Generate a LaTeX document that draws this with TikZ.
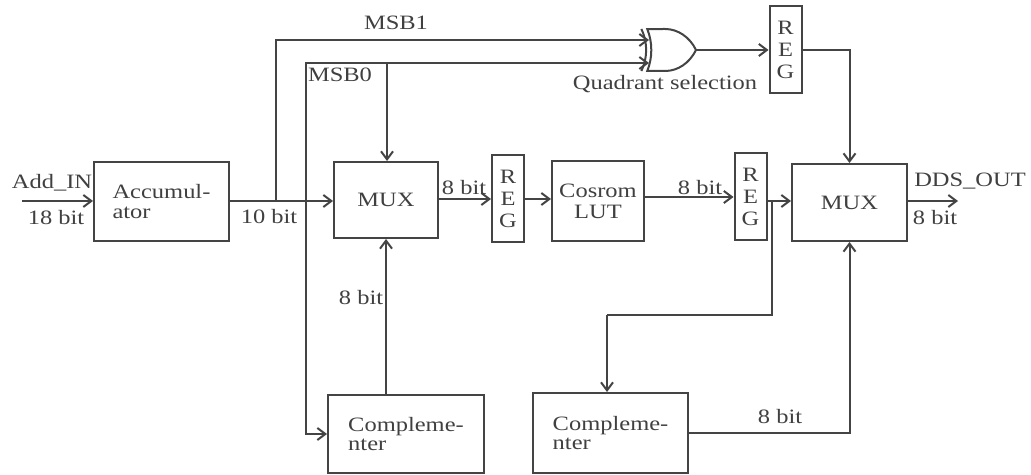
\documentclass[tikz,border=0pt]{standalone}
\usepackage{fontspec}
\setmainfont[FakeStretch=1.2]{Liberation Serif}
\usetikzlibrary{arrows.meta,shapes.gates.logic.US}
\definecolor{wirecol}{HTML}{444444}
\tikzset{
    blockbox/.style={draw=wirecol, line width=1pt, align=left, inner sep=0pt},
    regbox/.style={blockbox, align=center, minimum width=16pt, minimum height=43.5pt, font=\fontsize{10.2}{11}\selectfont},
    wire/.style={draw=wirecol, line width=1pt},
    lbl/.style={text=black!75, inner sep=0pt}
}
\begin{document}
\begin{tikzpicture}[x=0.5pt, y=-0.5pt, >={Straight Barb[length=4pt,width=6pt]}, text=black!75, font=\fontsize{10.2}{9.6}\selectfont]
    \useasboundingbox (0,0) rectangle (1031,475);

    % Blocks
    \node[blockbox, minimum width=67.5pt, minimum height=39.5pt] (accum) at (161.5,201.5) {Accumul-\\ator};
    \node[blockbox, minimum width=52pt, minimum height=38pt] (muxa) at (386,200) {MUX};
    \node[regbox] (rega) at (508,199) {R\\E\\G};
    \node[blockbox, align=center, minimum width=46pt, minimum height=40pt, font=\fontsize{10.2}{10.4}\selectfont] (cosrom) at (598,201) {Cosrom\\LUT};
    \node[regbox] (regb) at (750.5,197) {R\\E\\G};
    \node[blockbox, minimum width=57.5pt, minimum height=38.5pt] (muxb) at (849.5,202.5) {MUX};
    \node[regbox] (regc) at (785.5,50) {R\\E\\G};
    \node[blockbox, minimum width=78pt, minimum height=39pt] (compa) at (406,434) {Compleme-\\nter};
    \node[blockbox, minimum width=77.5pt, minimum height=40pt] (compb) at (610.5,433) {Compleme-\\nter};
    \node[xor gate US, draw=wirecol, line width=1pt, logic gate inputs=nn, minimum width=22pt, minimum height=21pt, inner sep=0pt, xscale=0.85, transform shape, anchor=output] (xorgate) at (697,50) {};

    % Free ends and branch points
    \coordinate (addin) at (22,201);
    \coordinate (ddsout) at (958,201);
    \coordinate (tapa) at (276,201);
    \coordinate (tapb) at (306,201);
    \coordinate (msba) at (276,40);
    \coordinate (msbb) at (306,63);
    \coordinate (msbc) at (387,63);
    \coordinate (xorina) at (649,40);
    \coordinate (xorinb) at (649,63);
    \coordinate (tapc) at (772,201);
    \coordinate (bendc) at (772,315);
    \coordinate (bendd) at (607,315);

    % Main path
    \draw[wire, ->] (addin) -- (accum.west |- addin);
    \draw[wire, ->] (accum.east |- tapa) -- (muxa.west |- tapa);
    \draw[wire, ->] (muxa.east |- rega.west) -- (rega.west);
    \draw[wire, ->] (rega.east) -- (cosrom.west |- rega.east);
    \draw[wire, ->] (cosrom.east |- regb.west) -- (regb.west);
    \draw[wire, ->] (regb.east |- tapc) -- (muxb.west |- tapc);
    \draw[wire, ->] (muxb.east |- ddsout) -- (ddsout);

    % MSB branches
    \draw[wire, ->] (tapa) -- (msba) -- (xorina);
    \draw[wire, ->] (tapb) -- (msbb) -- (xorinb);
    \draw[wire, ->] (msbc) -- (msbc |- muxa.north);
    \draw[wire, ->] (tapb) |- (compa.west);
    \draw[wire, ->] (xorgate.output) -- (regc.west);
    \draw[wire, ->] (regc.east) -| (muxb.north);

    % Complementers
    \draw[wire, ->] (compa.north -| muxa.south) -- (muxa.south);
    \draw[wire] (tapc) -- (bendc) -- (bendd);
    \draw[wire, ->] (bendd) -- (bendd |- compb.north);
    \draw[wire, ->] (compb.east) -| (muxb.south);

    % Labels
    \node[lbl] (addlabel) at (52,183) {Add\_IN};
    \node[lbl] (inbits) at (56,218) {18 bit};
    \node[lbl] (tenbits) at (269,217) {10 bit};
    \node[lbl] (msbalabel) at (396,23) {MSB1};
    \node[lbl] (msbblabel) at (340,75) {MSB0};
    \node[lbl] (muxbits) at (464,188) {8 bit};
    \node[lbl] (compbits) at (361,298) {8 bit};
    \node[lbl] (lutbits) at (700,188) {8 bit};
    \node[lbl] (quadlabel) at (665,84) {Quadrant selection};
    \node[lbl] (ddslabel) at (970,181) {DDS\_OUT};
    \node[lbl] (outbits) at (935,218) {8 bit};
    \node[lbl] (lowbits) at (780,417) {8 bit};
\end{tikzpicture}
\end{document}
